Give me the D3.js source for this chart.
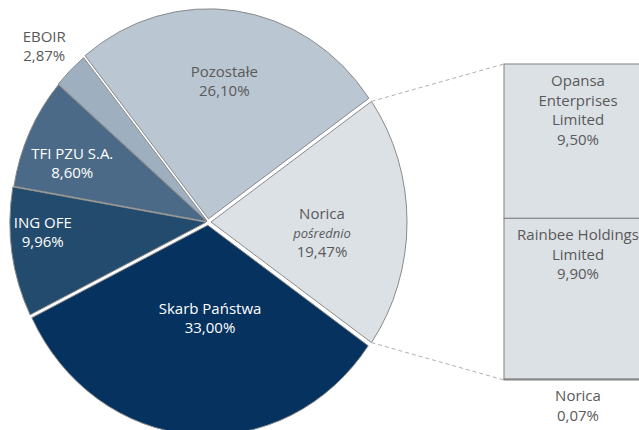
<!DOCTYPE html>
<html>
<head>
<meta charset="utf-8">
<script src="https://cdn.jsdelivr.net/npm/d3@7"></script>
<style>
  body { margin: 0; background: #fff; }
  text { font-family: "Open Sans", sans-serif; font-size: 15px; }
</style>
</head>
<body>
<div id="chart"></div>
<script>
// shareholders (clockwise, starting with Norica on the right)
const categories = ["Norica", "Skarb Państwa", "ING OFE", "TFI PZU S.A.", "EBOIR", "Pozostałe"];
const values = [19.47, 33.00, 9.96, 8.60, 2.87, 26.10];
const subLabels = ["pośrednio", "", "", "", "", ""];

// breakdown of Norica's indirect stake (bottom to top)
const breakdownNames = ["Norica", "Rainbee Holdings Limited", "Opansa Enterprises Limited"];
const breakdownLines = [["Norica"], ["Rainbee Holdings", "Limited"], ["Opansa", "Enterprises", "Limited"]];
const breakdownValues = [0.07, 9.90, 9.50];

const width = 639, height = 430;
const cx = 208, cy = 222, rx = 196, ry = 210;

const colors = ["#dce1e6", "#06325f", "#234b6e", "#4b6a87", "#9eafbf", "#bac6d1"];
const textColors = ["#595959", "#fff", "#fff", "#fff", "#595959", "#595959"];
const explode = [3, 3, 2, 1, 1.5, 3];
// label placement: radius along mid angle, then a small nudge
const labelR = [114, 90, 167, 150, 235, 132];
const labelNudge = [[0, 11], [9, 0], [0, -15], [0, 10], [0, 5], [-2, 0]];

const fmt = v => d3.format(".2f")(v).replace(".", ",") + "%";

const svg = d3.select("#chart")
  .append("svg")
  .attr("width", width)
  .attr("height", height)
  .attr("viewBox", [0, 0, width, height]);

const data = categories.map((c, i) => ({ name: c, value: values[i], sub: subLabels[i], i }));
const total = d3.sum(values);
const start = Math.PI / 2 - (values[0] / total) * Math.PI;

const pie = d3.pie().sort(null).value(d => d.value)
  .startAngle(start).endAngle(start + 2 * Math.PI);
const arcs = pie(data);

const arc = d3.arc().innerRadius(0).outerRadius(rx);

// pie is slightly stretched vertically (ellipse)
const g = svg.append("g")
  .attr("transform", `translate(${cx},${cy}) scale(1,${ry / rx})`);

g.selectAll("path")
  .data(arcs)
  .join("path")
  .attr("d", arc)
  .attr("fill", d => colors[d.data.i])
  .attr("stroke", "#8a8a8a")
  .attr("stroke-width", 1)
  .attr("vector-effect", "non-scaling-stroke")
  .attr("transform", d => {
    let mid = (d.startAngle + d.endAngle) / 2, o = explode[d.data.i];
    return `translate(${o * Math.sin(mid)},${-o * Math.cos(mid)})`;
  });

// point on the ellipse edge for a given pie angle
const edge = (a, r = 1) => [cx + rx * r * Math.sin(a), cy - ry * r * Math.cos(a)];

// pie labels
arcs.forEach(d => {
  let mid = (d.startAngle + d.endAngle) / 2, i = d.data.i;
  let [x, y] = edge(mid, labelR[i] / rx);
  x += labelNudge[i][0]; y += labelNudge[i][1];
  let lines = [{ t: d.data.name }];
  if (d.data.sub) lines.push({ t: d.data.sub, italic: true });
  lines.push({ t: fmt(d.data.value) });
  let lh = 19, y0 = y - (lines.length - 1) * lh / 2 + 5;
  let t = svg.append("text")
    .attr("text-anchor", "middle")
    .attr("fill", textColors[i]);
  lines.forEach((l, k) => {
    t.append("tspan")
      .attr("x", x)
      .attr("y", y0 + k * lh)
      .style("font-style", l.italic ? "italic" : null)
      .style("font-size", l.italic ? "13px" : null)
      .text(l.t);
  });
});

// breakdown bar
const boxX = 504, boxW = 150;
const y = d3.scaleLinear().domain([0, d3.sum(breakdownValues)]).range([380, 64]);
const stacked = d3.cumsum(breakdownValues);
const segs = breakdownValues.map((v, i) => ({ v, i, y0: stacked[i] - v, y1: stacked[i] }));

// dashed connectors from Norica slice edges to the bar
const pTop = edge(arcs[0].startAngle), pBot = edge(arcs[0].endAngle);
const no = explode[0];
svg.append("line")
  .attr("x1", pTop[0] + no).attr("y1", pTop[1])
  .attr("x2", boxX).attr("y2", y(d3.sum(breakdownValues)))
  .attr("stroke", "#b0b0b0").attr("stroke-dasharray", "4,3");
svg.append("line")
  .attr("x1", pBot[0] + no).attr("y1", pBot[1])
  .attr("x2", boxX).attr("y2", y(0))
  .attr("stroke", "#b0b0b0").attr("stroke-dasharray", "4,3");

svg.selectAll("rect.seg")
  .data(segs)
  .join("rect")
  .attr("class", "seg")
  .attr("x", boxX)
  .attr("width", boxW)
  .attr("y", d => y(d.y1))
  .attr("height", d => y(d.y0) - y(d.y1))
  .attr("fill", "#dce1e6")
  .attr("stroke", "#808080")
  .attr("stroke-width", 1);

segs.forEach(d => {
  let lines = breakdownLines[d.i].concat([fmt(d.v)]);
  let inside = d.v > 1;
  let top = inside ? y(d.y1) + 22 : y(d.y0) + 21;
  let t = svg.append("text")
    .attr("text-anchor", "middle")
    .attr("fill", "#595959");
  lines.forEach((l, k) => {
    t.append("tspan")
      .attr("x", boxX + boxW / 2 - 1)
      .attr("y", top + k * 19.5)
      .text(l);
  });
});
</script>
</body>
</html>
